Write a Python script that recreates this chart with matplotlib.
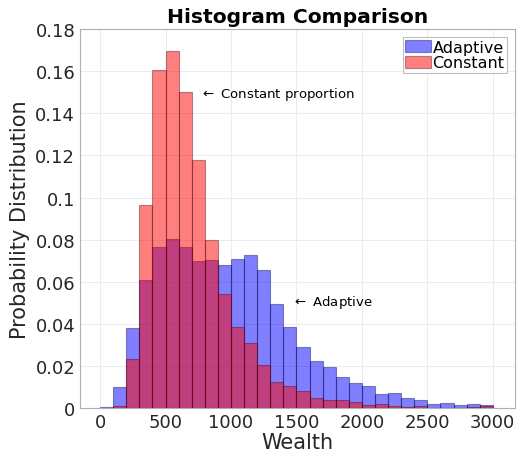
import numpy as np
import matplotlib
matplotlib.use('Agg')
import matplotlib.pyplot as plt

# Normalised histogram heights, 30 bins of width 100 from 0 to 3000
bin_edges = np.arange(0, 3001, 100)
adaptive = [0.0005, 0.0098, 0.0380, 0.0608, 0.0763, 0.0805, 0.0763, 0.0700, 0.0705, 0.0681,
            0.0710, 0.0727, 0.0654, 0.0495, 0.0386, 0.0289, 0.0222, 0.0194, 0.0146, 0.0119,
            0.0103, 0.0067, 0.0070, 0.0049, 0.0037, 0.0017, 0.0024, 0.0016, 0.0017, 0.0014]
constant = [0.0000, 0.0011, 0.0233, 0.0965, 0.1608, 0.1694, 0.1503, 0.1180, 0.0800, 0.0541,
            0.0384, 0.0310, 0.0203, 0.0124, 0.0106, 0.0079, 0.0046, 0.0037, 0.0037, 0.0027,
            0.0013, 0.0017, 0.0011, 0.0003, 0.0008, 0.0000, 0.0002, 0.0002, 0.0005, 0.0008]

txt = '#262626'
fig = plt.figure(figsize=(5.2, 4.64), dpi=100)
ax = fig.add_axes([0.154, 0.1185, 0.836, 0.8165])

left = bin_edges[:-1]
w = np.diff(bin_edges)
ax.bar(left, adaptive, width=w, align='edge', facecolor=(0, 0, 1, 0.5),
       edgecolor=(0, 0, 0.3, 0.4), linewidth=0.8, label='Adaptive', zorder=2)
ax.bar(left, constant, width=w, align='edge', facecolor=(1, 0, 0, 0.5),
       edgecolor=(0.3, 0, 0, 0.4), linewidth=0.8, label='Constant', zorder=3)

ax.set_xlim(-153, 3168)
ax.set_ylim(0, 0.18)
ax.set_xticks(np.arange(0, 3001, 500))
ax.set_yticks(np.arange(0, 0.181, 0.02))
ax.set_yticklabels(['0', '0.02', '0.04', '0.06', '0.08', '0.1', '0.12', '0.14', '0.16', '0.18'])
ax.tick_params(labelsize=13, colors=txt, direction='in', length=0)
ax.grid(True, color='#ececec', linewidth=0.7, zorder=0)
ax.set_axisbelow(True)
for s in ax.spines.values():
    s.set_color('#b0b0b0')
    s.set_linewidth(0.8)

ax.set_xlabel('Wealth', fontsize=15, color=txt, labelpad=1)
ax.set_ylabel('Probability Distribution', fontsize=15, color=txt, labelpad=4)
ax.set_title('Histogram Comparison', fontsize=14.6, fontweight='bold', color='black', pad=5)

ax.text(760, 0.1495, r'$\leftarrow$ Constant proportion', fontsize=9.5, color='black', va='center')
ax.text(1465, 0.0505, r'$\leftarrow$ Adaptive', fontsize=9.5, color='black', va='center')

leg = ax.legend(loc='upper right', fontsize=11.5, frameon=True, fancybox=False,
                borderpad=0.15, handlelength=1.6, handleheight=0.8, handletextpad=0.1,
                labelspacing=0.05, borderaxespad=0.5)
leg.get_frame().set_edgecolor('#b0b0b0')
leg.get_frame().set_linewidth(0.8)

fig.savefig('out.png', dpi=100)
